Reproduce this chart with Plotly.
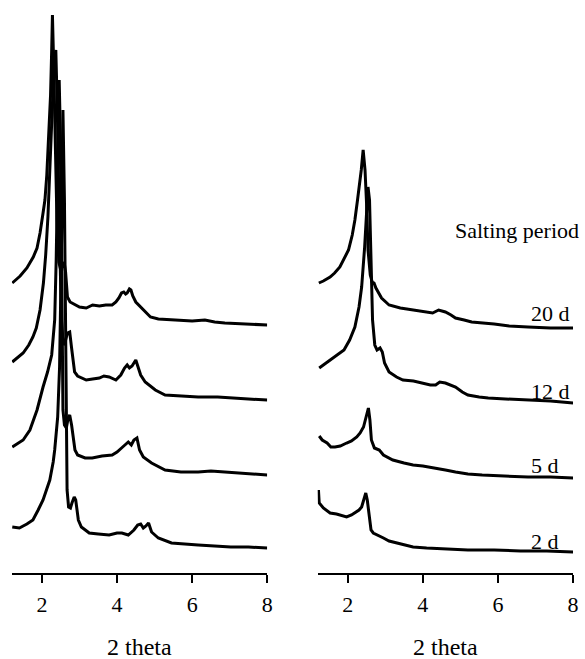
import plotly.graph_objects as go

# ---------------- data (2 theta vs. relative intensity) ----------------
# Left panel, four curves from top to bottom
L1_theta = [1.21,1.3,1.42,1.6,1.77,1.87,1.95,2.03,2.08,2.13,2.16,2.2,2.23,2.26,2.28,2.31,2.35,2.4,2.45,2.5,
            2.55,2.59,2.63,2.68,2.75,2.85,3.0,3.18,3.35,3.53,3.7,3.87,3.97,4.05,4.12,4.18,4.23,4.27,4.33,4.37,
            4.42,4.5,4.58,4.66,4.78,4.89,5.1,5.45,6.0,6.34,6.6,6.87,7.4,8.0]
L1_int = [42,45,49,57,68,77,92,112,125,150,175,205,230,275,310,265,185,105,63,55,
          59,63,53,28,23,21,18,17,20,19,20,20,23,27,32,33,31,32,36,35,
          29,23,20,17,12,8,6,5,4,5,3,2,1,0]

L2_theta = [1.21,1.35,1.5,1.65,1.76,1.85,1.95,2.04,2.1,2.16,2.22,2.26,2.32,2.37,2.41,2.46,2.52,2.57,2.62,2.68,
            2.74,2.79,2.87,2.95,3.05,3.18,3.35,3.53,3.65,3.79,3.97,4.1,4.2,4.27,4.33,4.4,4.5,4.56,4.63,4.75,
            4.88,5.02,5.28,5.7,6.16,6.68,7.03,7.5,8.0]
L2_int = [38,42,47,55,63,72,90,117,145,183,235,267,333,350,290,180,80,55,58,67,
          68,52,28,24,22,20,21,22,24,23,20,25,32,35,32,34,40,32,25,18,
          14,10,5,4,3,3,2,1,0]

L3_theta = [1.21,1.35,1.5,1.68,1.8,1.87,2.03,2.15,2.26,2.34,2.38,2.42,2.46,2.5,2.53,2.56,2.6,2.65,2.7,2.74,
            2.79,2.88,2.95,3.15,3.34,3.6,3.87,4.0,4.15,4.3,4.38,4.45,4.53,4.6,4.7,4.92,5.28,5.7,6.16,6.5,
            6.87,7.2,7.6,8.0]
L3_int = [28,31,35,45,57,65,88,103,120,155,215,315,395,325,175,65,50,47,57,60,
          50,25,20,17,17,19,20,23,28,33,30,35,37,25,18,12,5,3,3,4,
          3,2,1,0]

L4_theta = [1.21,1.4,1.6,1.76,1.9,2.03,2.12,2.21,2.3,2.34,2.42,2.47,2.52,2.56,2.6,2.64,2.67,2.71,2.76,2.8,
            2.86,2.9,2.97,3.05,3.26,3.5,3.79,4.0,4.13,4.3,4.45,4.55,4.63,4.7,4.77,4.84,4.92,5.1,5.45,6.16,
            6.6,7.03,7.5,8.0]
L4_int = [21,20,24,28,38,48,58,68,86,98,131,181,298,438,348,168,58,41,40,45,
          51,48,28,21,15,14,13,15,15,13,18,23,24,20,22,25,16,10,5,3,
          2,1,1,0]

# Right panel, four curves from top to bottom (salting period)
R1_theta = [1.23,1.35,1.53,1.65,1.79,1.92,2.02,2.12,2.19,2.26,2.31,2.36,2.41,2.46,2.5,2.54,2.6,2.65,2.7,2.75,
            2.9,3.1,3.4,3.74,4.0,4.26,4.42,4.6,4.75,4.87,5.1,5.3,5.9,6.3,6.8,7.4,8.0]
R1_int = [45,47,51,55,61,70,78,93,108,128,141,158,178,158,125,78,53,46,45,40,
          30,23,20,18,16,15,18,16,13,10,8,6,4,2,1,0,0]

R2_theta = [1.24,1.35,1.53,1.7,1.9,2.05,2.19,2.3,2.37,2.45,2.5,2.54,2.58,2.62,2.66,2.72,2.78,2.86,2.92,2.98,
            3.1,3.3,3.47,3.75,4.0,4.2,4.34,4.45,4.6,4.75,4.87,5.05,5.2,5.5,5.74,6.2,6.8,7.4,8.0]
R2_int = [35,38,43,48,53,63,76,96,116,156,193,216,203,143,83,58,53,55,51,40,
          31,26,23,22,20,18,18,21,20,18,16,11,8,6,5,4,3,2,0]

R3_theta = [1.24,1.32,1.45,1.55,1.66,1.8,1.97,2.1,2.24,2.33,2.42,2.5,2.55,2.59,2.63,2.71,2.78,2.84,2.95,3.2,
            3.5,3.74,4.0,4.34,4.6,4.87,5.2,5.58,6.2,6.8,7.4,8.0]
R3_int = [42,38,35,31,31,32,35,37,41,45,51,63,70,58,38,30,29,28,23,18,
          15,13,12,10,8,6,4,3,2,1,1,0]

R4_theta = [1.22,1.24,1.35,1.53,1.7,1.85,1.97,2.1,2.19,2.3,2.37,2.43,2.48,2.52,2.56,2.62,2.68,2.8,2.95,3.1,
            3.29,3.5,3.74,4.1,4.6,5.2,5.9,6.6,7.3,8.0]
R4_int = [62,49,44,39,38,36,35,37,39,42,45,52,59,52,37,22,19,17,14,11,
          9,7,5,4,3,2,2,1,1,0]

left_offsets = [248, 173, 98, 25]
right_offsets = [245, 170, 95, 21]
period_labels = ["20 d", "12 d", "5 d", "2 d"]
x_ticks = [2, 4, 6, 8]
x_title = "2 theta"
legend_title = "Salting period"

# ---------------- figure ----------------
FONT = "Liberation Serif"
fig = go.Figure()

left = [(L1_theta, L1_int), (L2_theta, L2_int), (L3_theta, L3_int), (L4_theta, L4_int)]
right = [(R1_theta, R1_int), (R2_theta, R2_int), (R3_theta, R3_int), (R4_theta, R4_int)]

for (th, it), off in zip(left, left_offsets):
    assert len(th) == len(it)
    fig.add_trace(go.Scatter(x=th, y=[v + off for v in it], mode="lines",
                             line=dict(color="black", width=3), xaxis="x", yaxis="y",
                             showlegend=False, hoverinfo="skip"))
for (th, it), off in zip(right, right_offsets):
    assert len(th) == len(it)
    fig.add_trace(go.Scatter(x=th, y=[v + off for v in it], mode="lines",
                             line=dict(color="black", width=3), xaxis="x2", yaxis="y2",
                             showlegend=False, hoverinfo="skip"))

W, H = 585, 659
AX_Y = 573                  # axis line position (px from top)
axis_common = dict(range=[1.2, 8.0], tickvals=x_ticks, ticktext=[str(t) for t in x_ticks],
                   showline=True, linecolor="black", linewidth=2, ticks="outside",
                   ticklen=8, tickwidth=2, tickcolor="black", showgrid=False, zeroline=False,
                   ticklabelstandoff=3,
                   tickfont=dict(family=FONT, size=22, color="black"), fixedrange=True)
yaxis_common = dict(range=[0, AX_Y], visible=False, showgrid=False, zeroline=False, fixedrange=True)

fig.update_layout(
    width=W, height=H,
    margin=dict(l=0, r=0, t=0, b=H - AX_Y, pad=0),
    paper_bgcolor="white", plot_bgcolor="white",
    xaxis=dict(domain=[12 / W, 270 / W], anchor="y", **axis_common),
    xaxis2=dict(domain=[321 / W, 579 / W], anchor="y2", **axis_common),
    yaxis=dict(anchor="x", **yaxis_common),
    yaxis2=dict(anchor="x2", **yaxis_common),
    showlegend=False,
)

title_y = -74 / AX_Y   # paper coords, below the axis
ann = []
for xr in ("x", "x2"):
    ann.append(dict(text=x_title, xref=xr, yref="paper", x=4.6, y=title_y, showarrow=False,
                    font=dict(family=FONT, size=24, color="black"), xanchor="center", yanchor="middle"))
ann.append(dict(text=legend_title, xref="x2", yref="y2", x=6.52, y=343, showarrow=False,
                font=dict(family=FONT, size=22, color="black"), xanchor="center", yanchor="middle"))
label_y = [260, 182, 108, 32]
for lab, ly in zip(period_labels, label_y):
    ann.append(dict(text=lab, xref="x2", yref="y2", x=6.84, y=ly, showarrow=False,
                    font=dict(family=FONT, size=22, color="black"), xanchor="left", yanchor="middle"))
fig.update_layout(annotations=ann)

fig.write_html("out.html", config={"displayModeBar": False},
               post_script="document.body.style.margin='0px';document.body.style.overflow='hidden';")
